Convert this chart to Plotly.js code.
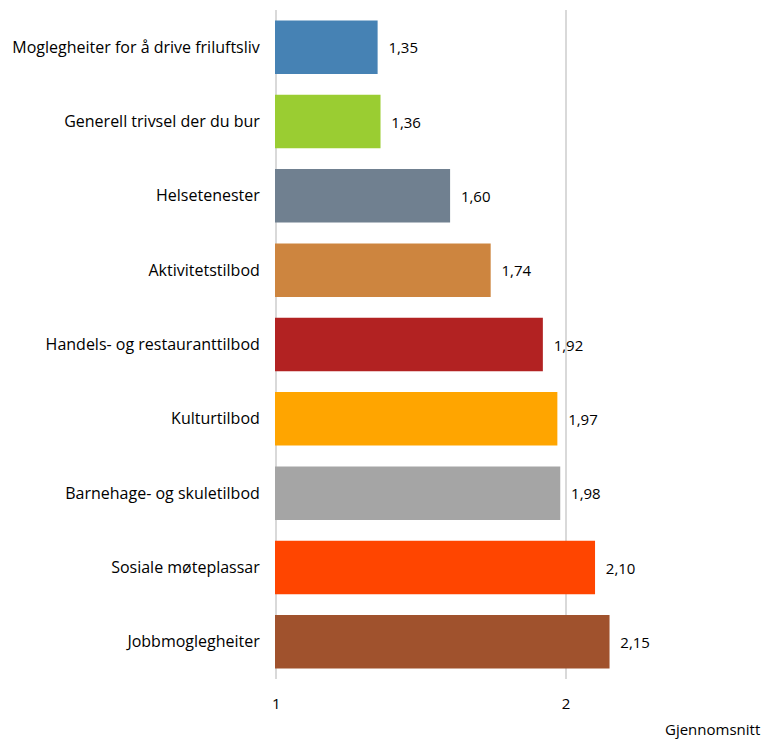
<!DOCTYPE html>
<html>
<head>
<meta charset="utf-8">
<script src="https://cdn.plot.ly/plotly-3.0.1.min.js"></script>
<style>html,body{margin:0;padding:0;background:#fff;}#chart{width:765px;height:739px;}</style>
</head>
<body>
<div id="chart"></div>
<script>
const categories = [
  "Moglegheiter for å drive friluftsliv",
  "Generell trivsel der du bur",
  "Helsetenester",
  "Aktivitetstilbod",
  "Handels- og restauranttilbod",
  "Kulturtilbod",
  "Barnehage- og skuletilbod",
  "Sosiale møteplassar",
  "Jobbmoglegheiter"
];
const values = [1.35, 1.36, 1.60, 1.74, 1.92, 1.97, 1.98, 2.10, 2.15];
const colors = ["#4682B4", "#9ACD32", "#708090", "#CD853F", "#B22222", "#FFA500", "#A5A5A5", "#FF4500", "#A0522D"];
const xTicks = [1, 2];
const xTitle = "Gjennomsnitt";

const font = "Open Sans, Liberation Sans, Arial, sans-serif";
const fs = 15;

Plotly.newPlot("chart", [{
  type: "bar",
  orientation: "h",
  y: categories,
  x: values,
  marker: {color: colors},
  texttemplate: "\u00a0\u00a0%{x:.2f}",
  textposition: "outside",
  cliponaxis: false,
  textfont: {family: font, size: fs, color: "#000"},
  hoverinfo: "none"
}], {
  width: 765,
  height: 739,
  margin: {l: 275, r: 54, t: 10, b: 60},
  separators: ",.",
  bargap: 0.28,
  showlegend: false,
  paper_bgcolor: "#fff",
  plot_bgcolor: "#fff",
  font: {family: font, size: fs, color: "#000"},
  xaxis: {
    range: [0.996, 2.5],
    tickvals: xTicks,
    ticktext: xTicks.map(String),
    showgrid: true,
    gridcolor: "#D9D9D9",
    gridwidth: 1.5,
    zeroline: false,
    showline: false,
    ticks: "outside",
    ticklen: 11,
    tickcolor: "rgba(0,0,0,0)",
    tickfont: {family: font, size: fs, color: "#000"}
  },
  yaxis: {
    autorange: "reversed",
    showgrid: false,
    zeroline: false,
    showline: false,
    ticks: "outside",
    ticklen: 11,
    tickcolor: "rgba(0,0,0,0)",
    tickfont: {family: font, size: 16, color: "#000"}
  },
  annotations: [{
    text: xTitle,
    xref: "paper", yref: "paper",
    x: 1.117, y: -0.074,
    xanchor: "right", yanchor: "middle",
    showarrow: false,
    font: {family: font, size: fs, color: "#000"}
  }]
}, {staticPlot: true});
</script>
</body>
</html>
